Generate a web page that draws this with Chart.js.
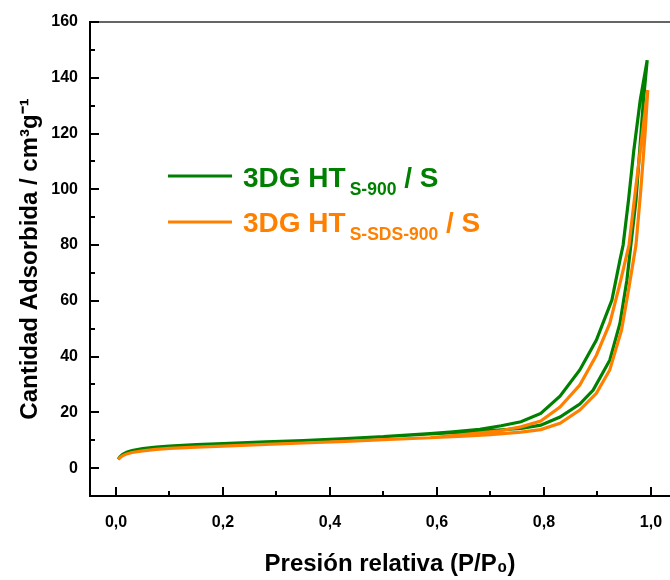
<!DOCTYPE html>
<html>
<head>
<meta charset="utf-8">
<script src="https://cdn.jsdelivr.net/npm/chart.js@4.4.1/dist/chart.umd.min.js"></script>
<style>
html,body{margin:0;padding:0;overflow:hidden;background:#fff;}
#wrap{position:absolute;left:0;top:0;width:690px;height:580px;}
</style>
</head>
<body>
<div id="wrap"><canvas id="c" width="690" height="580"></canvas></div>
<script>
// ---- Data ----
// 3DG HT S-900 / S : adsorption branch
const greenAdsX = [0.004,0.007,0.012,0.02,0.03,0.05,0.075,0.1,0.15,0.2,0.28,0.35,0.43,0.5,0.587,0.65,0.7,0.757,0.794,0.83,0.867,0.892,0.923,0.942,0.955,0.963,0.972,0.979,0.986,0.993];
const greenAdsY = [3.1,4.0,4.9,5.7,6.3,7.0,7.5,7.9,8.4,8.8,9.4,9.9,10.6,11.3,12.3,12.9,13.5,14.2,15.4,18.3,23.0,28.0,38.7,51.9,67.4,81.0,96.0,114.0,132.0,146.3];
// 3DG HT S-900 / S : desorption branch
const greenDesX = [0.980,0.968,0.958,0.948,0.942,0.927,0.898,0.867,0.830,0.794,0.757,0.72,0.68,0.63,0.587,0.5];
const greenDesY = [132.0,114.0,96.0,80.0,74.6,60.3,45.9,35.2,25.8,19.6,16.6,15.2,13.9,13.0,12.4,11.3];
// 3DG HT S-SDS-900 / S : adsorption branch
const orangeAdsX = [0.004,0.007,0.012,0.02,0.03,0.05,0.075,0.1,0.15,0.2,0.28,0.35,0.43,0.5,0.587,0.65,0.7,0.757,0.794,0.83,0.867,0.898,0.923,0.945,0.958,0.972,0.981,0.989,0.994];
const orangeAdsY = [3.1,3.7,4.4,5.1,5.6,6.2,6.7,7.1,7.5,7.9,8.5,9.0,9.6,10.2,10.9,11.5,12.0,12.9,13.8,16.1,20.8,26.8,35.2,49.5,63.8,80.0,99.7,120.0,135.6];
// 3DG HT S-SDS-900 / S : desorption branch
const orangeDesX = [0.984,0.971,0.959,0.942,0.923,0.898,0.867,0.830,0.794,0.757,0.718,0.65,0.587,0.5];
const orangeDesY = [120.0,99.7,80.0,66.2,51.9,40.5,29.8,21.9,16.9,14.8,13.4,12.0,10.9,10.2];

const seriesNames = ['3DG HT S-900 / S', '3DG HT S-SDS-900 / S'];
const legendMain = ['3DG HT', '3DG HT'];
const legendSub = ['S-900', 'S-SDS-900'];
const legendTail = [' / S', ' / S'];

const xTickValues = [0,0.1,0.2,0.3,0.4,0.5,0.6,0.7,0.8,0.9,1.0];
const yTickValues = [-10,0,10,20,30,40,50,60,70,80,90,100,110,120,130,140,150,160];
const xMajor = [0,0.2,0.4,0.6,0.8,1.0];
const yMajor = [0,20,40,60,80,100,120,140,160];

const xTitle = 'Presión relativa (P/P\u2080)';
const yTitle = 'Cantidad Adsorbida / cm\u00B3g\u207B\u00B9';

// ---- Helpers ----
function toPoints(xs, ys){ return xs.map((x,i)=>({x:x, y:ys[i]})); }
const isMajor = (list, v) => list.some(m => Math.abs(m - v) < 1e-9);

const GREEN = '#008000';
const ORANGE = '#FF8000';
const FONT = "Arial, 'Liberation Sans', sans-serif";

const decorPlugin = {
  id: 'decor',
  afterDraw(chart){
    const ctx = chart.ctx;
    const a = chart.chartArea;
    const xs = chart.scales.x, ys = chart.scales.y;
    ctx.save();
    // top frame line
    ctx.strokeStyle = '#333';
    ctx.lineWidth = 1.5;
    ctx.beginPath(); ctx.moveTo(a.left, a.top); ctx.lineTo(a.right, a.top); ctx.stroke();
    // inward tick marks
    ctx.strokeStyle = '#000';
    ctx.lineWidth = 2;
    xs.ticks.forEach(t => {
      const px = Math.round(xs.getPixelForValue(t.value));
      const len = isMajor(xMajor, t.value) ? 9 : 5;
      ctx.beginPath(); ctx.moveTo(px, a.bottom); ctx.lineTo(px, a.bottom - len); ctx.stroke();
    });
    ys.ticks.forEach(t => {
      if (t.value <= ys.min) return;
      const py = Math.round(ys.getPixelForValue(t.value));
      const len = isMajor(yMajor, t.value) ? 9 : 5;
      ctx.beginPath(); ctx.moveTo(a.left, py); ctx.lineTo(a.left + len, py); ctx.stroke();
    });
    // legend with subscripts
    const colors = [GREEN, ORANGE];
    const rows = [{lineY:176, base:187}, {lineY:222, base:232}];
    rows.forEach((r, i) => {
      ctx.strokeStyle = colors[i];
      ctx.lineWidth = 3;
      ctx.beginPath(); ctx.moveTo(168, r.lineY); ctx.lineTo(232, r.lineY); ctx.stroke();
      ctx.fillStyle = colors[i];
      ctx.textBaseline = 'alphabetic';
      ctx.textAlign = 'left';
      let x = 243;
      ctx.font = 'bold 28px ' + FONT;
      ctx.fillText(legendMain[i], x, r.base);
      x += ctx.measureText(legendMain[i]).width + 4;
      ctx.font = 'bold 17.5px ' + FONT;
      ctx.fillText(legendSub[i], x, r.base + 8);
      x += ctx.measureText(legendSub[i]).width;
      ctx.font = 'bold 28px ' + FONT;
      ctx.fillText(legendTail[i], x, r.base);
    });
    ctx.restore();
  }
};

new Chart(document.getElementById('c'), {
  type: 'scatter',
  data: {
    datasets: [
      {
        label: seriesNames[0],
        data: toPoints(greenAdsX.concat(greenDesX), greenAdsY.concat(greenDesY)),
        showLine: true, borderColor: GREEN, backgroundColor: GREEN,
        borderWidth: 3.2, pointRadius: 0, tension: 0, order: 2
      },
      {
        label: seriesNames[1],
        data: toPoints(orangeAdsX.concat(orangeDesX), orangeAdsY.concat(orangeDesY)),
        showLine: true, borderColor: ORANGE, backgroundColor: ORANGE,
        borderWidth: 3.2, pointRadius: 0, tension: 0, order: 1
      }
    ]
  },
  options: {
    responsive: false,
    devicePixelRatio: 1,
    animation: false,
    layout: { padding: { top: 22, right: 0, bottom: 0, left: 0 } },
    plugins: { legend: { display: false }, tooltip: { enabled: false } },
    scales: {
      x: {
        type: 'linear', min: -0.0486, max: 1.073,
        afterBuildTicks: s => { s.ticks = xTickValues.map(v => ({ value: v })); },
        afterFit: s => { s.height = 84; },
        grid: { display: false, drawTicks: false },
        border: { display: true, color: '#000', width: 2 },
        ticks: {
          autoSkip: false, maxRotation: 0, padding: 17, color: '#000',
          font: { family: FONT, size: 16, weight: 'bold' },
          callback: v => isMajor(xMajor, v) ? v.toFixed(1).replace('.', ',') : ''
        },
        title: {
          display: true, text: xTitle, color: '#000',
          font: { family: FONT, size: 24, weight: 'bold' },
          padding: { top: 0, bottom: 1 }
        }
      },
      y: {
        type: 'linear', min: -10, max: 160,
        afterBuildTicks: s => { s.ticks = yTickValues.map(v => ({ value: v })); },
        afterFit: s => { s.width = 90; },
        grid: { display: false, drawTicks: false },
        border: { display: true, color: '#000', width: 2 },
        ticks: {
          autoSkip: false, padding: 12, color: '#000',
          font: { family: FONT, size: 16, weight: 'bold' },
          callback: v => isMajor(yMajor, v) ? String(v) : ''
        },
        title: {
          display: true, text: yTitle, color: '#000',
          font: { family: FONT, size: 24, weight: 'bold' },
          padding: { top: 16, bottom: 0 }
        }
      }
    }
  },
  plugins: [decorPlugin]
});
</script>
</body>
</html>
